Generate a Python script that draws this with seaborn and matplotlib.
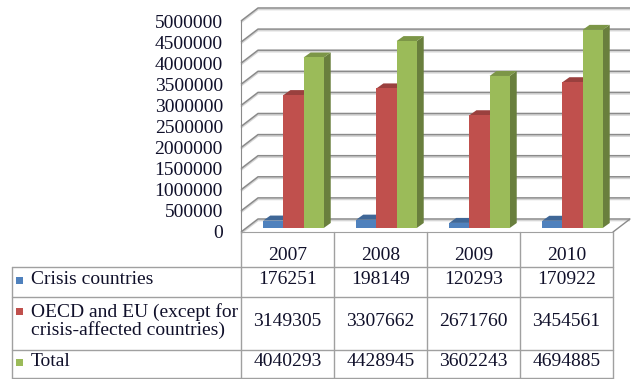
import matplotlib
matplotlib.use('Agg')
import numpy as np
import pandas as pd
import seaborn as sns
import matplotlib.pyplot as plt
import matplotlib.colors as mcolors
from matplotlib.patches import Polygon, Rectangle
from matplotlib.lines import Line2D

# %% Data
years = ['2007', '2008', '2009', '2010']
series = ['Crisis countries', 'OECD and EU (except for\ncrisis-affected countries)', 'Total']
crisis = [176251, 198149, 120293, 170922]
oecd = [3149305, 3307662, 2671760, 3454561]
total = [4040293, 4428945, 3602243, 4694885]
yticks = np.arange(0, 5000001, 500000)

colors = ['#4F81BD', '#C0504D', '#9BBB59']

df = pd.DataFrame({
    'year': years * 3,
    'series': np.repeat(series, len(years)),
    'value': crisis + oecd + total,
})

# %% Figure setup (pixel helpers, origin at top-left)
W, H = 632, 379
sns.set_style('white')
plt.rcParams['font.family'] = ['Liberation Serif', 'DejaVu Serif']
text_color = '#10102a'
grid_color = '#8a8a8a'

fig = plt.figure(figsize=(W / 100, H / 100), dpi=100)
fx = lambda px: px / W
fy = lambda py: 1 - py / H

ax_left, ax_right, ax_bottom, ax_top = 241, 613, 232, 21
ax = fig.add_axes([fx(ax_left), fy(ax_bottom), (ax_right - ax_left) / W, (ax_bottom - ax_top) / H])

sns.barplot(data=df, x='year', y='value', hue='series', order=years, hue_order=series,
            palette=colors, width=0.65, saturation=1, errorbar=None, legend=False, ax=ax)
ax.set_xlim(-0.5, 3.5)
ax.set_ylim(0, 5000000)

# pixel -> data units
px_x = 4 / (ax_right - ax_left)
px_y = 5000000 / (ax_bottom - ax_top)

# back wall / floor lines (pseudo 3D), with a faint shadow under each line
wdx, wdy = 17 * px_x, 13 * px_y
for v in yticks:
    ax.plot([-0.5, -0.5 + wdx, 3.5 + wdx], [v - 1.5 * px_y, v + wdy - 1.5 * px_y, v + wdy - 1.5 * px_y],
            color='#d6d6d6', lw=1.2, clip_on=False, zorder=0.4, solid_capstyle='butt')
    ax.plot([-0.5, -0.5 + wdx, 3.5 + wdx], [v, v + wdy, v + wdy], color=grid_color,
            lw=1.1, clip_on=False, zorder=0.5, solid_capstyle='butt')
ax.plot([3.5, 3.5 + wdx], [0, wdy], color=grid_color, lw=1.0, clip_on=False, zorder=0.5)

# bars: shift to mid-depth and add top / side faces
sx, sy = 6 * px_x, 4 * px_y
bdx, bdy = 7 * px_x, 5 * px_y
bars = sorted(ax.patches, key=lambda p: p.get_x())
for i, p in enumerate(bars):
    x0 = p.get_x() + sx
    w = p.get_width()
    h = p.get_height()
    x1 = x0 + w
    y0 = sy
    y1 = sy + h
    p.set_x(x0)
    p.set_y(y0)
    p.set_linewidth(0)
    p.set_clip_on(False)
    base = np.array(mcolors.to_rgb(p.get_facecolor()))
    z = 2 + i * 0.01
    p.set_zorder(z + 0.002)
    side = Polygon([(x1, y0), (x1 + bdx, y0 + bdy), (x1 + bdx, y1 + bdy), (x1, y1)],
                   closed=True, facecolor=base * 0.68, edgecolor='none', clip_on=False, zorder=z)
    top = Polygon([(x0, y1), (x1, y1), (x1 + bdx, y1 + bdy), (x0 + bdx, y1 + bdy)],
                  closed=True, facecolor=base * 0.8, edgecolor='none', clip_on=False, zorder=z + 0.001)
    ax.add_patch(side)
    ax.add_patch(top)

# axes styling
for s in ['top', 'right']:
    ax.spines[s].set_visible(False)
ax.spines['left'].set_color(grid_color)
ax.spines['bottom'].set_color('#a0a0a0')
ax.set_yticks(yticks)
ax.set_yticklabels([f'{int(t)}' for t in yticks])
ax.tick_params(axis='y', length=0, pad=13, labelsize=14, labelcolor=text_color)
ax.set_xticks([])
ax.set_xlabel('')
ax.set_ylabel('')

# %% Data table below the chart
line_color = '#a0a0a0'
col_edges = [ax_left + i * (ax_right - ax_left) / 4 for i in range(5)]
row_edges = [232, 267, 297, 350, 378]
label_left = 12


def hline(y, xa, xb):
    fig.add_artist(Line2D([fx(xa), fx(xb)], [fy(y), fy(y)], transform=fig.transFigure,
                          color=line_color, lw=1.0))


def vline(x, ya, yb):
    fig.add_artist(Line2D([fx(x), fx(x)], [fy(ya), fy(yb)], transform=fig.transFigure,
                          color=line_color, lw=1.0))


for y in row_edges[1:]:
    hline(y, label_left, ax_right)
for x in col_edges:
    vline(x, row_edges[0], row_edges[-1])
vline(label_left, row_edges[1], row_edges[-1])

# header
for i, yr in enumerate(years):
    cx = (col_edges[i] + col_edges[i + 1]) / 2
    fig.text(fx(cx), fy(255), yr, ha='center', va='center', fontsize=14, color=text_color)

# rows
row_text_y = [280, 322, 362]
row_label_y = [280, 321, 362]
square_y = [280, 311, 362]
for r, (name, vals) in enumerate(zip(series, [crisis, oecd, total])):
    fig.add_artist(Rectangle((fx(16), fy(square_y[r] + 3.5)), 7 / W, 7 / H,
                             transform=fig.transFigure, facecolor=colors[r], edgecolor='none'))
    fig.text(fx(31), fy(row_label_y[r]), name, ha='left', va='center', fontsize=14,
             color=text_color, linespacing=1.0)
    for i, v in enumerate(vals):
        cx = (col_edges[i] + col_edges[i + 1]) / 2
        fig.text(fx(cx), fy(row_text_y[r]), str(v), ha='center', va='center', fontsize=14,
                 color=text_color)

plt.savefig('out.png', dpi=100)
